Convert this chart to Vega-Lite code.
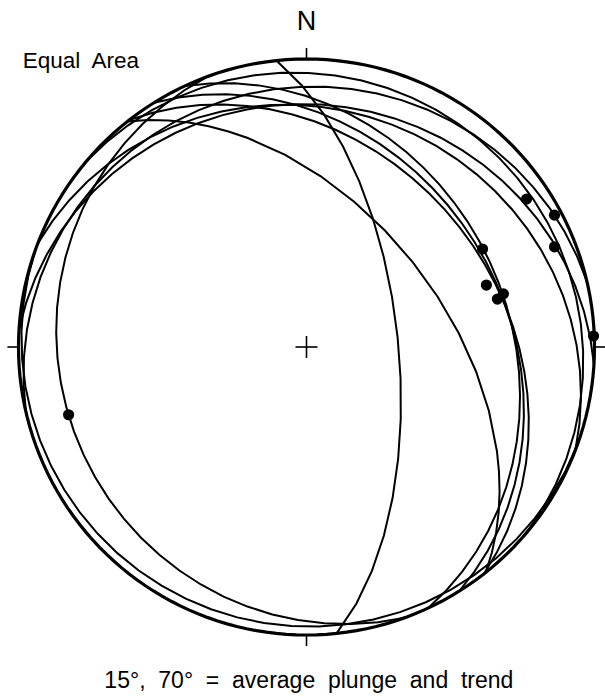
{
  "$schema": "https://vega.github.io/schema/vega-lite/v6.json",
  "width": 605,
  "height": 698,
  "autosize": "none",
  "padding": 0,
  "background": "white",
  "config": {"view": {"stroke": null}},
  "projection": {
    "type": "azimuthalEqualArea",
    "rotate": [0, 90, 0],
    "scale": 203.65,
    "translate": [306.5, 347],
    "clipAngle": 90
  },
  "layer": [
    {
      "data": {"values": [
        {"type": "Feature", "properties": {"plane": "A"}, "geometry": {"type": "LineString", "coordinates": [[354, 0], [84, -64], [174, 0]]}},
        {"type": "Feature", "properties": {"plane": "B"}, "geometry": {"type": "LineString", "coordinates": [[321.5, 0], [51.5, -51], [141.5, 0]]}},
        {"type": "Feature", "properties": {"plane": "C1"}, "geometry": {"type": "LineString", "coordinates": [[335, 0], [65, -30.5], [155, 0]]}},
        {"type": "Feature", "properties": {"plane": "C2"}, "geometry": {"type": "LineString", "coordinates": [[328, 0], [58, -31.8], [148, 0]]}},
        {"type": "Feature", "properties": {"plane": "C3"}, "geometry": {"type": "LineString", "coordinates": [[322, 0], [52, -33], [142, 0]]}},
        {"type": "Feature", "properties": {"plane": "D"}, "geometry": {"type": "LineString", "coordinates": [[291, 0], [21, -18.4], [111, 0]]}},
        {"type": "Feature", "properties": {"plane": "E"}, "geometry": {"type": "LineString", "coordinates": [[273.5, 0], [3.5, -16.8], [93.5, 0]]}},
        {"type": "Feature", "properties": {"plane": "F"}, "geometry": {"type": "LineString", "coordinates": [[257, 0], [347, -10.8], [77, 0]]}},
        {"type": "Feature", "properties": {"plane": "G"}, "geometry": {"type": "LineString", "coordinates": [[310, 0], [40, -7], [130, 0]]}},
        {"type": "Feature", "properties": {"plane": "H"}, "geometry": {"type": "LineString", "coordinates": [[160, 0], [250, -15.2], [340, 0]]}},
        {"type": "Feature", "properties": {"plane": "I"}, "geometry": {"type": "LineString", "coordinates": [[110, 0], [200, -3.5], [290, 0]]}}
      ]},
      "mark": {"type": "geoshape", "filled": false, "stroke": "black", "strokeWidth": 2}
    },
    {
      "data": {"sphere": true},
      "mark": {"type": "geoshape", "filled": false, "stroke": "black", "strokeWidth": 3.2}
    },
    {
      "data": {"values": [
        {"part": "tick N", "lon1": 0, "lat1": 0, "lon2": 0, "lat2": 4.5},
        {"part": "tick E", "lon1": 90, "lat1": 0, "lon2": 90, "lat2": 4.5},
        {"part": "tick S", "lon1": 180, "lat1": 0, "lon2": 180, "lat2": 4.5},
        {"part": "tick W", "lon1": 270, "lat1": 0, "lon2": 270, "lat2": 4.5},
        {"part": "cross EW", "lon1": 270, "lat1": -86.9, "lon2": 90, "lat2": -86.9},
        {"part": "cross NS", "lon1": 0, "lat1": -86.9, "lon2": 180, "lat2": -86.9}
      ]},
      "mark": {"type": "rule", "stroke": "black", "strokeWidth": 1.6},
      "encoding": {
        "longitude": {"field": "lon1", "type": "quantitative"},
        "latitude": {"field": "lat1", "type": "quantitative"},
        "longitude2": {"field": "lon2"},
        "latitude2": {"field": "lat2"}
      }
    },
    {
      "data": {"values": [
        {"trend": 56.1, "lat": -8.8},
        {"trend": 62.0, "lat": -2.8},
        {"trend": 68.0, "lat": -7.9},
        {"trend": 60.9, "lat": -30.7},
        {"trend": 71.0, "lat": -34.3},
        {"trend": 75.9, "lat": -32.2},
        {"trend": 74.9, "lat": -29.9},
        {"trend": 87.8, "lat": -0.3},
        {"trend": 254.1, "lat": -15.2}
      ]},
      "mark": {"type": "circle", "fill": "black", "opacity": 1, "size": 125},
      "encoding": {
        "longitude": {"field": "trend", "type": "quantitative"},
        "latitude": {"field": "lat", "type": "quantitative"}
      }
    },
    {
      "data": {"values": [{"label": "N", "lon": 0, "lat": 12.2}]},
      "mark": {"type": "text", "font": "Liberation Sans", "fontSize": 27, "align": "center", "baseline": "alphabetic", "fill": "black"},
      "encoding": {
        "longitude": {"field": "lon", "type": "quantitative"},
        "latitude": {"field": "lat", "type": "quantitative"},
        "text": {"field": "label"}
      }
    },
    {
      "data": {"values": [{"label": "Equal\u00a0 Area", "lon": 314.5, "lat": 65.2}]},
      "mark": {"type": "text", "font": "Liberation Sans", "fontSize": 22.5, "align": "left", "baseline": "alphabetic", "fill": "black"},
      "encoding": {
        "longitude": {"field": "lon", "type": "quantitative"},
        "latitude": {"field": "lat", "type": "quantitative"},
        "text": {"field": "label"}
      }
    },
    {
      "data": {"values": [{"label": "15°,\u00a0 70°\u00a0 =\u00a0 average\u00a0 plunge\u00a0 and\u00a0 trend", "lon": 179.6, "lat": 23.7}]},
      "mark": {"type": "text", "font": "Liberation Sans", "fontSize": 23, "align": "center", "baseline": "alphabetic", "fill": "black"},
      "encoding": {
        "longitude": {"field": "lon", "type": "quantitative"},
        "latitude": {"field": "lat", "type": "quantitative"},
        "text": {"field": "label"}
      }
    }
  ]
}
